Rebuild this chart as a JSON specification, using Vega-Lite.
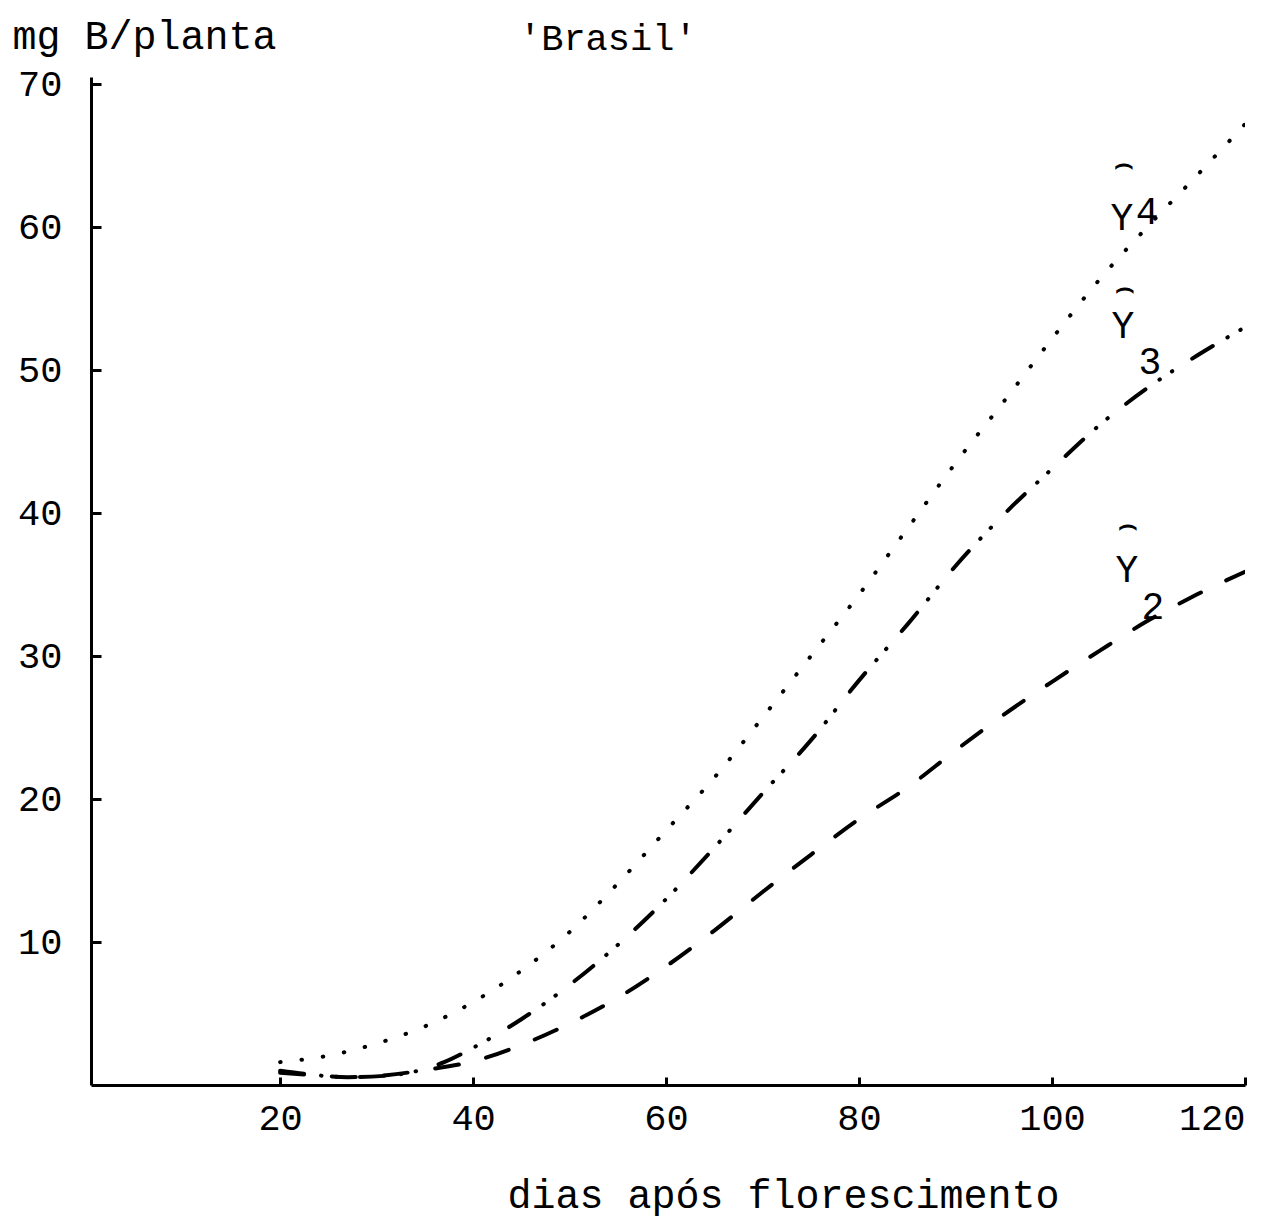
{
  "$schema": "https://vega.github.io/schema/vega-lite/v6.json",
  "width": 1154,
  "height": 1008,
  "autosize": "none",
  "padding": {"left": 91, "top": 77, "right": 24, "bottom": 133},
  "background": "white",
  "title": {
    "text": "'Brasil'",
    "anchor": "start",
    "frame": "group",
    "dx": 428,
    "dy": 46,
    "font": "Liberation Mono",
    "fontSize": 37,
    "fontWeight": "normal",
    "color": "black"
  },
  "config": {
    "view": {"stroke": null},
    "axis": {
      "grid": false,
      "domainColor": "black",
      "domainWidth": 3,
      "tickColor": "black",
      "tickWidth": 3,
      "labelFont": "Liberation Mono",
      "labelFontSize": 37,
      "labelColor": "black",
      "titleFont": "Liberation Mono",
      "titleFontSize": 40,
      "titleFontWeight": "normal",
      "titleColor": "black"
    }
  },
  "datasets": {
    "curvas": [
      {"curva": "Y4", "dias": 20, "mg": 1.6},
      {"curva": "Y4", "dias": 25, "mg": 2.05},
      {"curva": "Y4", "dias": 30, "mg": 2.9},
      {"curva": "Y4", "dias": 35, "mg": 4.1},
      {"curva": "Y4", "dias": 40, "mg": 5.8},
      {"curva": "Y4", "dias": 45, "mg": 8.0},
      {"curva": "Y4", "dias": 50, "mg": 10.7},
      {"curva": "Y4", "dias": 55, "mg": 14.1},
      {"curva": "Y4", "dias": 60, "mg": 17.8},
      {"curva": "Y4", "dias": 65, "mg": 21.5},
      {"curva": "Y4", "dias": 70, "mg": 25.7},
      {"curva": "Y4", "dias": 75, "mg": 30.0},
      {"curva": "Y4", "dias": 80, "mg": 34.3},
      {"curva": "Y4", "dias": 85, "mg": 38.9},
      {"curva": "Y4", "dias": 90, "mg": 43.5},
      {"curva": "Y4", "dias": 95, "mg": 47.8},
      {"curva": "Y4", "dias": 100, "mg": 52.2},
      {"curva": "Y4", "dias": 105, "mg": 56.4},
      {"curva": "Y4", "dias": 110, "mg": 60.1},
      {"curva": "Y4", "dias": 115, "mg": 63.6},
      {"curva": "Y4", "dias": 120, "mg": 67.2},
      {"curva": "Y3", "dias": 20, "mg": 0.85},
      {"curva": "Y3", "dias": 23, "mg": 0.72},
      {"curva": "Y3", "dias": 27, "mg": 0.55},
      {"curva": "Y3", "dias": 31, "mg": 0.65},
      {"curva": "Y3", "dias": 34, "mg": 0.95},
      {"curva": "Y3", "dias": 37, "mg": 1.6},
      {"curva": "Y3", "dias": 40, "mg": 2.6},
      {"curva": "Y3", "dias": 45, "mg": 4.6},
      {"curva": "Y3", "dias": 50, "mg": 7.0},
      {"curva": "Y3", "dias": 55, "mg": 9.8},
      {"curva": "Y3", "dias": 60, "mg": 13.0},
      {"curva": "Y3", "dias": 65, "mg": 16.6},
      {"curva": "Y3", "dias": 70, "mg": 20.4},
      {"curva": "Y3", "dias": 75, "mg": 24.1},
      {"curva": "Y3", "dias": 80, "mg": 28.3},
      {"curva": "Y3", "dias": 85, "mg": 32.2},
      {"curva": "Y3", "dias": 90, "mg": 36.3},
      {"curva": "Y3", "dias": 95, "mg": 39.9},
      {"curva": "Y3", "dias": 100, "mg": 43.1},
      {"curva": "Y3", "dias": 105, "mg": 46.2},
      {"curva": "Y3", "dias": 110, "mg": 48.8},
      {"curva": "Y3", "dias": 115, "mg": 51.0},
      {"curva": "Y3", "dias": 120, "mg": 53.0},
      {"curva": "Y2", "dias": 20, "mg": 1.0},
      {"curva": "Y2", "dias": 23, "mg": 0.75},
      {"curva": "Y2", "dias": 27, "mg": 0.55},
      {"curva": "Y2", "dias": 31, "mg": 0.68},
      {"curva": "Y2", "dias": 35, "mg": 1.05},
      {"curva": "Y2", "dias": 40, "mg": 1.65},
      {"curva": "Y2", "dias": 45, "mg": 2.8},
      {"curva": "Y2", "dias": 50, "mg": 4.3},
      {"curva": "Y2", "dias": 55, "mg": 6.1},
      {"curva": "Y2", "dias": 60, "mg": 8.3},
      {"curva": "Y2", "dias": 65, "mg": 10.8},
      {"curva": "Y2", "dias": 70, "mg": 13.5},
      {"curva": "Y2", "dias": 75, "mg": 16.1},
      {"curva": "Y2", "dias": 80, "mg": 18.6},
      {"curva": "Y2", "dias": 85, "mg": 20.8},
      {"curva": "Y2", "dias": 90, "mg": 23.4},
      {"curva": "Y2", "dias": 95, "mg": 25.9},
      {"curva": "Y2", "dias": 100, "mg": 28.2},
      {"curva": "Y2", "dias": 105, "mg": 30.4},
      {"curva": "Y2", "dias": 110, "mg": 32.5},
      {"curva": "Y2", "dias": 115, "mg": 34.3},
      {"curva": "Y2", "dias": 120, "mg": 35.9}
    ],
    "rotulos": [
      {"texto": "Y", "tipo": "letra", "dias": 107.25, "mg": 60.6},
      {"texto": "4", "tipo": "indice", "dias": 109.85, "mg": 61.0},
      {"texto": "⌢", "tipo": "chapeu", "dias": 107.45, "mg": 64.4},
      {"texto": "Y", "tipo": "letra", "dias": 107.35, "mg": 53.0},
      {"texto": "3", "tipo": "indice", "dias": 110.15, "mg": 50.5},
      {"texto": "⌢", "tipo": "chapeu", "dias": 107.55, "mg": 55.75},
      {"texto": "Y", "tipo": "letra", "dias": 107.75, "mg": 35.95},
      {"texto": "2", "tipo": "indice", "dias": 110.45, "mg": 33.35},
      {"texto": "⌢", "tipo": "chapeu", "dias": 107.85, "mg": 39.2}
    ]
  },
  "layer": [
    {
      "data": {"name": "curvas"},
      "transform": [{"filter": "datum.curva === 'Y4'"}],
      "mark": {"type": "line", "interpolate": "monotone", "color": "black", "strokeWidth": 4, "strokeCap": "round", "strokeDash": [0.5, 21], "clip": true},
      "encoding": {
        "x": {
          "field": "dias", "type": "quantitative",
          "scale": {"domain": [0.4, 120], "nice": false, "zero": false},
          "axis": {
            "values": [20, 40, 60, 80, 100, 120],
            "tickSize": -8,
            "labelPadding": 23,
            "title": "dias após florescimento",
            "titleX": 692,
            "titleY": 122,
            "titleAlign": "center",
            "titleBaseline": "alphabetic"
          }
        },
        "y": {
          "field": "mg", "type": "quantitative",
          "scale": {"domain": [0, 70.5], "nice": false},
          "axis": {
            "values": [10, 20, 30, 40, 50, 60, 70],
            "tickSize": -10,
            "labelPadding": 39,
            "title": "mg B/planta",
            "titleAngle": 0,
            "titleX": -79,
            "titleY": -29,
            "titleAlign": "left",
            "titleBaseline": "alphabetic"
          }
        }
      }
    },
    {
      "data": {"name": "curvas"},
      "transform": [{"filter": "datum.curva === 'Y3'"}],
      "mark": {"type": "line", "interpolate": "monotone", "color": "black", "strokeWidth": 4, "strokeCap": "round", "strokeDash": [24, 17, 0.5, 14.5, 0.5, 23.5], "clip": true},
      "encoding": {
        "x": {"field": "dias", "type": "quantitative"},
        "y": {"field": "mg", "type": "quantitative"}
      }
    },
    {
      "data": {"name": "curvas"},
      "transform": [{"filter": "datum.curva === 'Y2'"}],
      "mark": {"type": "line", "interpolate": "monotone", "color": "black", "strokeWidth": 4, "strokeCap": "round", "strokeDash": [24, 28], "clip": true},
      "encoding": {
        "x": {"field": "dias", "type": "quantitative"},
        "y": {"field": "mg", "type": "quantitative"}
      }
    },
    {
      "data": {"name": "rotulos"},
      "transform": [{"filter": "datum.tipo !== 'chapeu'"}],
      "mark": {"type": "text", "font": "Liberation Mono", "fontSize": 38, "color": "black", "align": "center", "baseline": "middle"},
      "encoding": {
        "x": {"field": "dias", "type": "quantitative"},
        "y": {"field": "mg", "type": "quantitative"},
        "text": {"field": "texto"}
      }
    },
    {
      "data": {"name": "rotulos"},
      "transform": [{"filter": "datum.tipo === 'chapeu'"}],
      "mark": {"type": "text", "font": "DejaVu Sans", "fontSize": 30, "fontWeight": "bold", "color": "black", "align": "center", "baseline": "middle"},
      "encoding": {
        "x": {"field": "dias", "type": "quantitative"},
        "y": {"field": "mg", "type": "quantitative"},
        "text": {"field": "texto"}
      }
    }
  ]
}
